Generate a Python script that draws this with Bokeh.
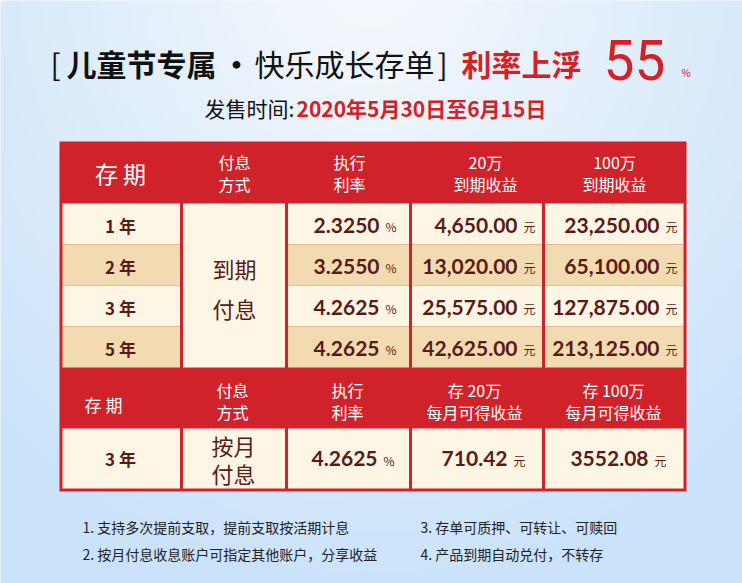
import numpy as np
from bokeh.plotting import figure
from bokeh.models import Range1d, ColumnDataSource
from bokeh.core.properties import value
from bokeh.embed import file_html
from bokeh.resources import INLINE

# ---------------- data ----------------
title_parts = ["[", "儿童节专属", "·", "快乐成长存单", "]", "利率上浮", "55", "%"]
sale_label = "发售时间:"
sale_period = "2020年5月30日至6月15日"

header1 = [["存 期"], ["付息", "方式"], ["执行", "利率"], ["20万", "到期收益"], ["100万", "到期收益"]]
terms = ["1 年", "2 年", "3 年", "5 年"]
pay_mode = ["到期", "付息"]
rates = ["2.3250", "3.2550", "4.2625", "4.2625"]
income_20w = ["4,650.00", "13,020.00", "25,575.00", "42,625.00"]
income_100w = ["23,250.00", "65,100.00", "127,875.00", "213,125.00"]

header2 = [["存 期"], ["付息", "方式"], ["执行", "利率"], ["存 20万", "每月可得收益"], ["存 100万", "每月可得收益"]]
m_term = "3 年"
m_mode = ["按月", "付息"]
m_rate = "4.2625"
m_20w = "710.42"
m_100w = "3552.08"

notes = ["1. 支持多次提前支取，提前支取按活期计息", "2. 按月付息收息账户可指定其他账户，分享收益",
         "3. 存单可质押、可转让、可赎回", "4. 产品到期自动兑付，不转存"]

# ---------------- style / layout ----------------
W, H = 742, 583
RED = "#d0222a"
CREAM = "#fdf6e4"
TAN = "#f3dbb1"
INK = "#5a1a17"
CJK = value("Noto Sans CJK SC")
NUM = value("Lato")

col_edges = [59, 181, 286, 410, 543, 686]
top = 141
hdr1_bot = 203
row_h = 41
hdr2_bot = 428
tbl_bot = 491


def Y(y):
    return H - y


p = figure(width=W, height=H, x_range=Range1d(0, W), y_range=Range1d(0, H),
           output_backend="svg", toolbar_location=None, min_border=0,
           x_axis_type=None, y_axis_type=None)
p.grid.visible = False
p.outline_line_color = None
p.background_fill_color = "#e4f0fb"
p.border_fill_color = "#e4f0fb"

# background gradient
nx, ny = 150, 120
gx = np.linspace(0, W, nx)
gy = np.linspace(H, 0, ny)
GX, GY = np.meshgrid(gx, gy)
t = np.sqrt(((GX - 371) / 560.0) ** 2 + ((GY + 30) / 620.0) ** 2)
t = np.clip(t, 0, 1)
light = np.array([246, 249, 252])
blue = np.array([203, 227, 250])
img = np.empty((ny, nx), dtype=np.uint32)
view = img.view(dtype=np.uint8).reshape((ny, nx, 4))
for k in range(3):
    view[:, :, k] = (light[k] + (blue[k] - light[k]) * t).astype(np.uint8)
view[:, :, 3] = 255
p.image_rgba(image=[img], x=0, y=0, dw=W, dh=H)

# ---------------- title ----------------
TRED = "#d42027"
p.text(x=[50], y=[Y(62)], text=[title_parts[0]], text_font=CJK, text_font_size="30px",
       text_baseline="middle", text_color="#111111")
p.text(x=[66], y=[Y(62)], text=[title_parts[1]], text_font=CJK, text_font_size="30px",
       text_font_style="bold", text_baseline="middle", text_color="#111111")
p.text(x=[236], y=[Y(62)], text=[title_parts[2]], text_font=CJK, text_font_size="30px",
       text_font_style="bold", text_baseline="middle", text_align="center", text_color="#111111")
p.text(x=[254], y=[Y(62)], text=[title_parts[3]], text_font=CJK, text_font_size="30px",
       text_baseline="middle", text_color="#111111")
p.text(x=[437], y=[Y(62)], text=[title_parts[4]], text_font=CJK, text_font_size="30px",
       text_baseline="middle", text_color="#111111")
p.text(x=[461], y=[Y(62)], text=[title_parts[5]], text_font=CJK, text_font_size="30px",
       text_font_style="bold", text_baseline="middle", text_color=TRED)
p.text(x=[603], y=[Y(59)], text=[title_parts[6]], text_font=value("Roboto"), text_font_size="55px",
       text_baseline="middle", text_color=TRED)
p.text(x=[681], y=[Y(72)], text=[title_parts[7]], text_font=CJK, text_font_size="10px",
       text_baseline="middle", text_color=TRED)

p.text(x=[204], y=[Y(107)], text=[sale_label], text_font=CJK, text_font_size="21px",
       text_baseline="middle", text_color="#111111")
p.text(x=[296], y=[Y(107)], text=[sale_period], text_font=CJK, text_font_size="21px",
       text_font_style="bold", text_baseline="middle", text_color=TRED)

# ---------------- table frame & cells ----------------
p.quad(left=col_edges[0], right=col_edges[-1], top=Y(top), bottom=Y(tbl_bot),
       fill_color=RED, line_color=None)


def inset(c):
    left = col_edges[c] + (3 if c == 0 else 1.5)
    right = col_edges[c + 1] - (3 if c == len(col_edges) - 2 else 1.5)
    return left, right


cl, cr, ct, cb, cc = [], [], [], [], []
for i in range(len(terms)):
    for c in [0, 2, 3, 4]:
        l, r = inset(c)
        cl.append(l); cr.append(r)
        ct.append(Y(hdr1_bot + row_h * i)); cb.append(Y(hdr1_bot + row_h * (i + 1)))
        cc.append(CREAM if i % 2 == 0 else TAN)
l, r = inset(1)
cl.append(l); cr.append(r); ct.append(Y(hdr1_bot)); cb.append(Y(hdr1_bot + row_h * len(terms))); cc.append(CREAM)
for c in range(5):
    l, r = inset(c)
    cl.append(l); cr.append(r); ct.append(Y(hdr2_bot)); cb.append(Y(tbl_bot - 3)); cc.append(CREAM)
p.quad(source=ColumnDataSource(dict(left=cl, right=cr, top=ct, bottom=cb, color=cc)),
       left="left", right="right", top="top", bottom="bottom", fill_color="color", line_color=None)

# ---------------- headers ----------------
hdr_x = [120, 234, 349, 485, 614]
hdr2_x = [103, 232, 347, 474, 613]


def header(labels, xs, y_single, y_two, single_size, size):
    for lab, x in zip(labels, xs):
        if len(lab) == 1:
            p.text(x=[x], y=[Y(y_single)], text=lab, text_font=CJK, text_font_size=single_size,
                   text_align="center", text_baseline="middle", text_color="white")
        else:
            p.text(x=[x, x], y=[Y(y_two[0]), Y(y_two[1])], text=lab, text_font=CJK,
                   text_font_size=size, text_align="center", text_baseline="middle", text_color="white")


header(header1, hdr_x, 172, (161, 183), "23px", "16px")
header(header2, hdr2_x, 404, (389, 411), "17px", "16px")

# ---------------- body ----------------
ry = [Y(hdr1_bot + row_h * i + 22) for i in range(len(terms))]
p.text(x=[120] * len(terms), y=ry, text=terms, text_font=CJK, text_font_size="17px",
       text_font_style="bold", text_align="center", text_baseline="middle", text_color=INK)
p.text(x=[234, 234], y=[Y(267), Y(307)], text=pay_mode, text_font=CJK, text_font_size="22px",
       text_align="center", text_baseline="middle", text_color=INK)

num_cols = [(rates, 379, "%"), (income_20w, 517, "元"), (income_100w, 659, "元")]
for vals, xr, unit in num_cols:
    p.text(x=[xr] * len(vals), y=ry, text=vals, text_font=NUM, text_font_size="21px",
           text_font_style="bold", text_align="right", text_baseline="middle", text_color=INK)
    p.text(x=[xr + 6] * len(vals), y=[v - 1 for v in ry], text=[unit] * len(vals), text_font=CJK,
           text_font_size="12px", text_align="left", text_baseline="middle", text_color=INK)

ly = Y(458)
p.text(x=[120], y=[ly], text=[m_term], text_font=CJK, text_font_size="17px", text_font_style="bold",
       text_align="center", text_baseline="middle", text_color=INK)
p.text(x=[233, 233], y=[Y(444), Y(472)], text=m_mode, text_font=CJK, text_font_size="22px",
       text_align="center", text_baseline="middle", text_color=INK)
for v, xr, unit in [(m_rate, 377, "%"), (m_20w, 507, "元"), (m_100w, 648, "元")]:
    p.text(x=[xr], y=[ly], text=[v], text_font=NUM, text_font_size="21px", text_font_style="bold",
           text_align="right", text_baseline="middle", text_color=INK)
    p.text(x=[xr + 6], y=[ly - 2], text=[unit], text_font=CJK, text_font_size="12px",
           text_align="left", text_baseline="middle", text_color=INK)

# ---------------- notes ----------------
p.text(x=[82, 82, 420, 420], y=[Y(526), Y(553), Y(526), Y(553)], text=notes, text_font=CJK,
       text_font_size="14px", text_baseline="middle", text_color="#222222")

open("out.html", "w").write(file_html(p, INLINE))
